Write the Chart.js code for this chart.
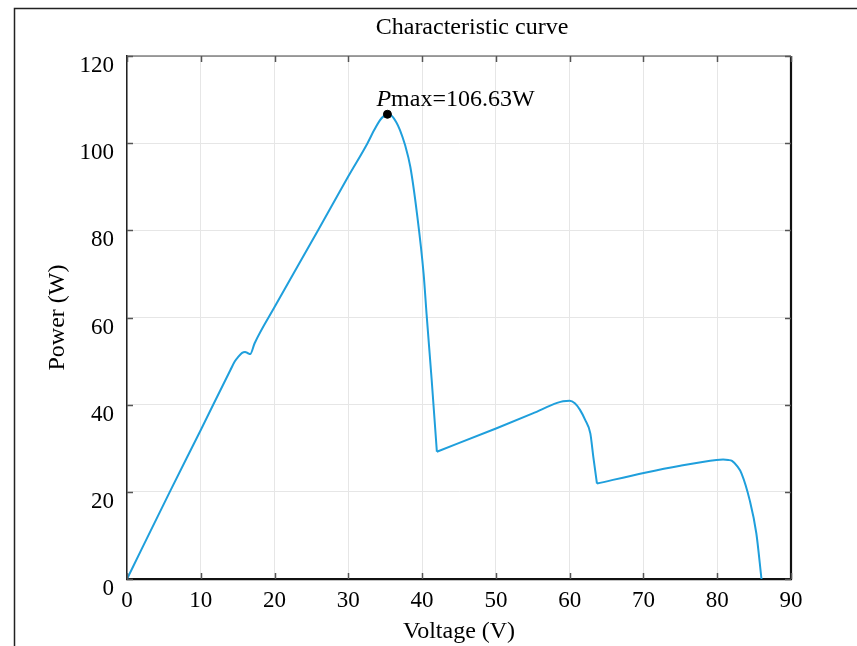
<!DOCTYPE html>
<html>
<head>
<meta charset="utf-8">
<script src="https://cdn.jsdelivr.net/npm/chart.js@4.4.1/dist/chart.umd.min.js"></script>
<style>
  html, body { margin: 0; padding: 0; background: #fff; }
  #wrap { position: relative; width: 857px; height: 646px; }
  canvas { display: block; }
</style>
</head>
<body>
<div id="wrap"><canvas id="c" width="857" height="646"></canvas></div>
<script>
// ---- data ----
const voltage = [0, 2, 5.8, 10, 14, 14.6, 15.1, 15.6, 16.0, 16.4, 16.7, 17.3, 20, 25.9, 30, 32.6, 33.5, 34.3, 34.8, 35.3, 35.8, 36.5, 37.0, 37.7, 38.4, 39.3, 40.2, 40.6, 41.3, 42.0, 50.1, 55, 58.3, 59.1, 60.0, 60.7, 61.4, 62.1, 62.8, 63.2, 63.7, 70.2, 75, 79.9, 80.8, 81.5, 82.0, 82.7, 83.3, 84.4, 85.3, 86.0];
const power   = [0, 6.9, 20.0, 34.2, 47.9, 49.9, 51.0, 51.9, 52.1, 51.8, 51.6, 54.1, 62.4, 80.0, 92.4, 100.0, 103.0, 105.3, 106.2, 106.63, 106.4, 104.8, 103.0, 99.5, 94.6, 83.9, 70.1, 60.9, 45.6, 29.2, 34.6, 38.0, 40.4, 40.8, 40.9, 40.3, 38.8, 36.5, 33.4, 28.1, 21.9, 24.4, 26.0, 27.3, 27.4, 27.3, 27.1, 25.9, 24.2, 18.1, 10.5, 0];
// the curve has sharp corners where one bypass diode takes over (voltages 42.0 and 63.7)
const cornerVoltages = [42.0, 63.7];
const pmaxVoltage = 35.3;
const pmaxPower = 106.63;
const xTicks = [0, 10, 20, 30, 40, 50, 60, 70, 80, 90];
const yTicks = [0, 20, 40, 60, 80, 100, 120];
const titleText = 'Characteristic curve';
const xTitle = 'Voltage (V)';
const yTitle = 'Power (W)';

const SERIF = '"Liberation Serif", "Times New Roman", serif';
const LINE_COLOR = '#1f9fdc';

const points = voltage.map((v, i) => ({ x: v, y: power[i] }));
// split the single curve into smooth pieces at the corners (shared end points)
const cuts = cornerVoltages.map(c => voltage.indexOf(c));
const bounds = [0, ...cuts, voltage.length - 1];
const curveSets = [];
for (let k = 0; k < bounds.length - 1; k++) {
  curveSets.push({
    data: points.slice(bounds[k], bounds[k + 1] + 1),
    borderColor: LINE_COLOR,
    borderWidth: 2,
    pointRadius: 0,
    cubicInterpolationMode: 'monotone',
    fill: false,
    order: 2
  });
}

const decor = {
  id: 'decor',
  afterDraw(chart) {
    const ctx = chart.ctx;
    const { left, right, top, bottom } = chart.chartArea;
    const xs = chart.scales.x, ys = chart.scales.y;
    ctx.save();
    // outer figure frame (left + top)
    ctx.strokeStyle = '#222';
    ctx.lineWidth = 1.5;
    ctx.beginPath();
    ctx.moveTo(14.5, 646); ctx.lineTo(14.5, 8.5); ctx.lineTo(857, 8.5);
    ctx.stroke();
    // top axis line
    ctx.strokeStyle = '#444';
    ctx.lineWidth = 1.2;
    ctx.beginPath(); ctx.moveTo(left, top); ctx.lineTo(right, top); ctx.stroke();
    // right axis line
    ctx.strokeStyle = '#111';
    ctx.lineWidth = 2.2;
    ctx.beginPath(); ctx.moveTo(right, top); ctx.lineTo(right, bottom + 1); ctx.stroke();
    // inward ticks
    ctx.strokeStyle = '#555';
    ctx.lineWidth = 1.5;
    const tl = 6;
    xTicks.forEach(v => {
      const px = Math.round(xs.getPixelForValue(v)) + 0.5;
      ctx.beginPath(); ctx.moveTo(px, bottom); ctx.lineTo(px, bottom - tl); ctx.stroke();
      ctx.beginPath(); ctx.moveTo(px, top); ctx.lineTo(px, top + tl); ctx.stroke();
    });
    yTicks.forEach(v => {
      const py = Math.round(ys.getPixelForValue(v)) + 0.5;
      ctx.beginPath(); ctx.moveTo(left, py); ctx.lineTo(left + tl, py); ctx.stroke();
      ctx.beginPath(); ctx.moveTo(right, py); ctx.lineTo(right - tl, py); ctx.stroke();
    });
    // title
    ctx.fillStyle = '#000';
    ctx.font = '24px ' + SERIF;
    ctx.textAlign = 'center';
    ctx.textBaseline = 'alphabetic';
    ctx.fillText(titleText, 472, 34);
    // Pmax annotation
    const ax = xs.getPixelForValue(pmaxVoltage) - 11;
    const ay = ys.getPixelForValue(pmaxPower) - 8;
    ctx.textAlign = 'left';
    ctx.font = 'italic 24px ' + SERIF;
    ctx.fillText('P', ax, ay);
    const wP = ctx.measureText('P').width;
    ctx.font = '24px ' + SERIF;
    ctx.fillText('max=' + pmaxPower.toFixed(2) + 'W', ax + wP, ay);
    ctx.restore();
  }
};

new Chart(document.getElementById('c'), {
  type: 'line',
  data: {
    datasets: [
      ...curveSets,
      {
        data: [{ x: pmaxVoltage, y: pmaxPower }],
        showLine: false,
        pointRadius: 4,
        pointBackgroundColor: '#000',
        pointBorderColor: '#000',
        order: 1
      }
    ]
  },
  options: {
    responsive: false,
    animation: false,
    devicePixelRatio: 1,
    layout: { padding: { top: 56, right: 66, bottom: 0, left: 0 } },
    plugins: { legend: { display: false }, title: { display: false }, tooltip: { enabled: false } },
    scales: {
      x: {
        type: 'linear',
        min: 0, max: 90,
        afterBuildTicks: s => { s.ticks = xTicks.map(v => ({ value: v })); },
        afterFit: s => { s.height = 67; },
        ticks: { color: '#000', padding: 8, font: { family: SERIF, size: 23 } },
        grid: { color: '#e6e6e6', lineWidth: 1, drawTicks: false },
        border: { color: '#111', width: 2.2 },
        title: { display: true, text: xTitle, color: '#000', padding: { top: 0, bottom: 0 }, font: { family: SERIF, size: 24 } }
      },
      y: {
        type: 'linear',
        min: 0, max: 120,
        afterBuildTicks: s => { s.ticks = yTicks.map(v => ({ value: v })); },
        afterFit: s => { s.width = 127; },
        ticks: { color: '#000', padding: 13, labelOffset: 10, font: { family: SERIF, size: 23 } },
        grid: { color: '#e6e6e6', lineWidth: 1, drawTicks: false },
        border: { color: '#222', width: 1.5 },
        title: { display: true, text: yTitle, color: '#000', padding: { top: 43, bottom: 0 }, font: { family: SERIF, size: 24 } }
      }
    }
  },
  plugins: [decor]
});
</script>
</body>
</html>
